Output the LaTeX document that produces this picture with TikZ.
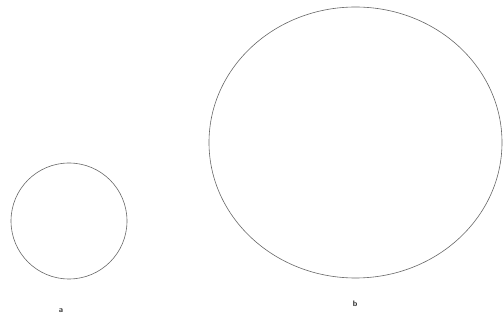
\documentclass[tikz,border=0pt]{standalone}
\usepackage{tikz}
\usetikzlibrary{shapes.geometric}

\begin{document}
\begin{tikzpicture}[x=1pt,y=-1pt,
    ring/.style={ellipse, draw=black!60, line width=0.6pt, inner sep=0pt},
    lab/.style={font=\sffamily\bfseries\footnotesize, text=black!85}]
    \useasboundingbox (0,0) rectangle (503,320);

    % small circle and large oval
    \node[ring, minimum width=116pt, minimum height=116pt] (a) at (69,221) {};
    \node[ring, minimum width=293pt, minimum height=271pt] (b) at (355.5,142.5) {};

    \node[lab] (la) at (61,311) {a};
    \node[lab] (lb) at (355,304) {b};
\end{tikzpicture}
\end{document}
